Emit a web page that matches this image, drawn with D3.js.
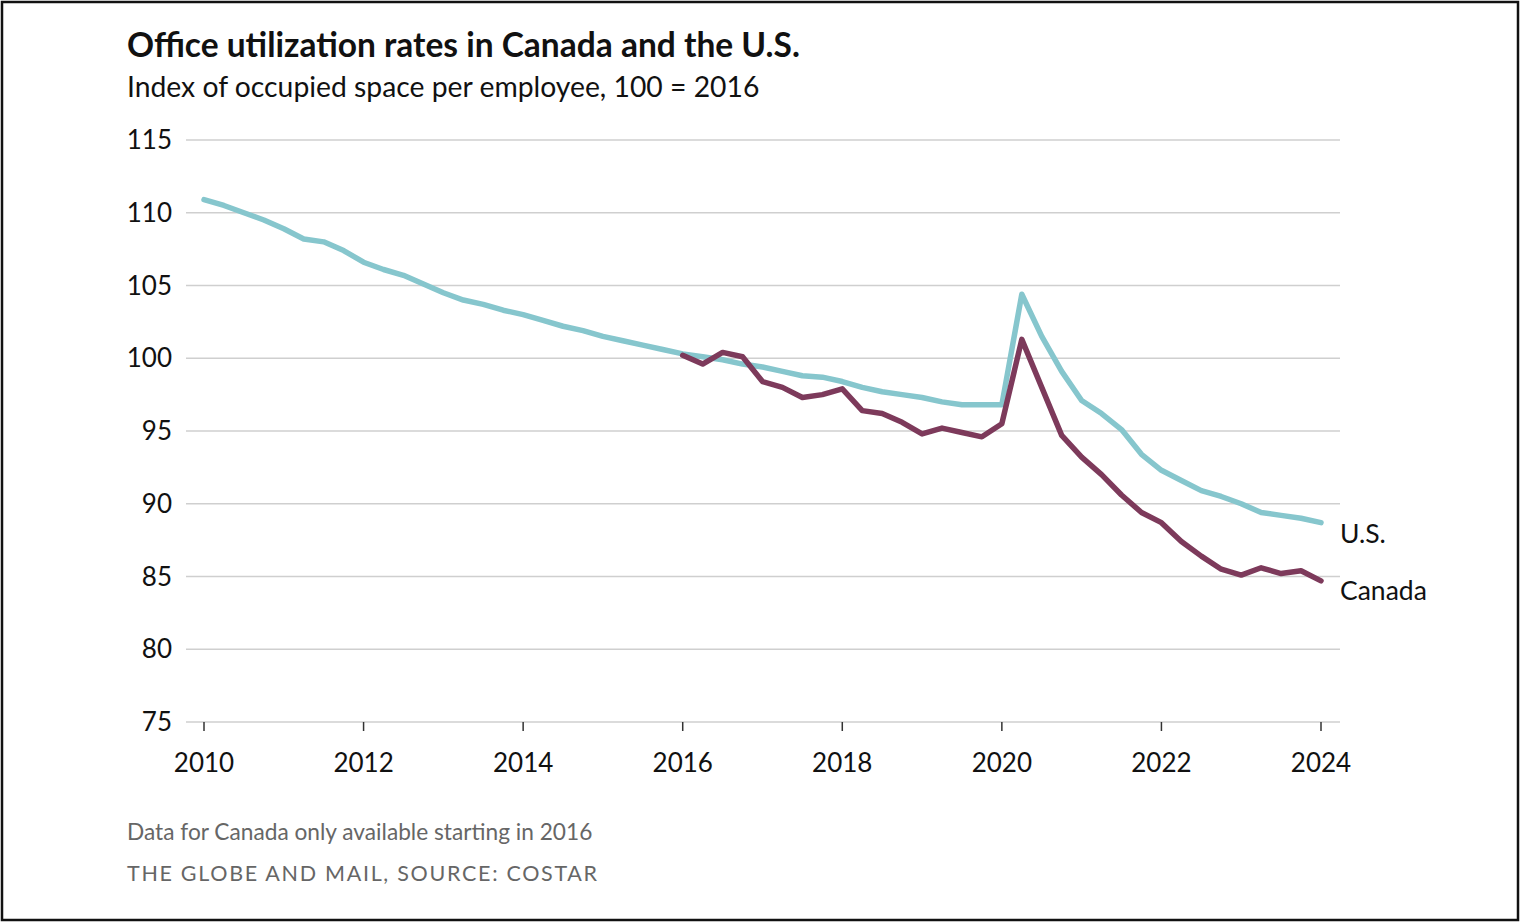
<html>
<head>
<script src="https://cdn.jsdelivr.net/npm/d3@7"></script>
</head>
<body style="margin:0;background:#fff">
<svg width="1520" height="923" id="chart"></svg>
<script>
// quarterly index values, 100 = 2016
var usStart = 2010;
var usValues = [110.9, 110.5, 110.0, 109.5, 108.9, 108.2, 108.0, 107.4, 106.6, 106.1, 105.7, 105.1,
  104.5, 104.0, 103.7, 103.3, 103.0, 102.6, 102.2, 101.9, 101.5, 101.2, 100.9, 100.6,
  100.3, 100.1, 99.9, 99.6, 99.4, 99.1, 98.8, 98.7, 98.4, 98.0, 97.7, 97.5,
  97.3, 97.0, 96.8, 96.8, 96.8, 104.4, 101.5, 99.1, 97.1, 96.2, 95.1, 93.4,
  92.3, 91.6, 90.9, 90.5, 90.0, 89.4, 89.2, 89.0, 88.7];
var caStart = 2016;
var caValues = [100.2, 99.6, 100.4, 100.1, 98.4, 98.0, 97.3, 97.5, 97.9, 96.4, 96.2, 95.6,
  94.8, 95.2, 94.9, 94.6, 95.5, 101.3, 98.0, 94.7, 93.2, 92.0, 90.6, 89.4,
  88.7, 87.4, 86.4, 85.5, 85.1, 85.6, 85.2, 85.4, 84.7];
var yTicks = [75, 80, 85, 90, 95, 100, 105, 110, 115];
var xTicks = [2010, 2012, 2014, 2016, 2018, 2020, 2022, 2024];

function toPoints(start, vals) {
  return vals.map(function(v, i) { return {t: start + i / 4, v: v}; });
}
var us = toPoints(usStart, usValues);
var ca = toPoints(caStart, caValues);

var svg = d3.select("#chart");
var font = "Lato, 'Open Sans', sans-serif";

svg.append("rect")
  .attr("x", 2).attr("y", 2).attr("width", 1516).attr("height", 918)
  .attr("fill", "none").attr("stroke", "#111").attr("stroke-width", 2.5);

var x = d3.scaleLinear().domain([2010, 2024]).range([204, 1321]);
var y = d3.scaleLinear().domain([75, 115]).range([722, 140]);

// gridlines
svg.append("g")
  .selectAll("line")
  .data(yTicks)
  .enter().append("line")
  .attr("x1", 186).attr("x2", 1340)
  .attr("y1", function(d) { return y(d); })
  .attr("y2", function(d) { return y(d); })
  .attr("stroke", "#cfcfcf").attr("stroke-width", 1.5);

// y labels
svg.append("g")
  .selectAll("text")
  .data(yTicks)
  .enter().append("text")
  .attr("x", 172)
  .attr("y", function(d) { return y(d) + 9; })
  .attr("text-anchor", "end")
  .style("font-family", font).style("font-size", "26px").style("fill", "#111")
  .text(function(d) { return d; });

// x axis ticks + labels
var xg = svg.append("g");
xg.selectAll("line")
  .data(xTicks)
  .enter().append("line")
  .attr("x1", function(d) { return x(d); })
  .attr("x2", function(d) { return x(d); })
  .attr("y1", 722).attr("y2", 731)
  .attr("stroke", "#333").attr("stroke-width", 1.5);
xg.selectAll("text")
  .data(xTicks)
  .enter().append("text")
  .attr("x", function(d) { return x(d); })
  .attr("y", 772)
  .attr("text-anchor", "middle")
  .style("font-family", font).style("font-size", "26px").style("fill", "#111")
  .text(function(d) { return d; });

var line = d3.line()
  .x(function(d) { return x(d.t); })
  .y(function(d) { return y(d.v); });

svg.append("path").datum(us)
  .attr("d", line)
  .attr("fill", "none").attr("stroke", "#86c6cd").attr("stroke-width", 5.5)
  .attr("stroke-linejoin", "round").attr("stroke-linecap", "round");

svg.append("path").datum(ca)
  .attr("d", line)
  .attr("fill", "none").attr("stroke", "#7d3a5b").attr("stroke-width", 5.5)
  .attr("stroke-linejoin", "round").attr("stroke-linecap", "round");

// series labels
svg.append("text").attr("x", 1340).attr("y", 543)
  .style("font-family", font).style("font-size", "26.5px").style("fill", "#111")
  .text("U.S.");
svg.append("text").attr("x", 1340).attr("y", 600)
  .style("font-family", font).style("font-size", "26.5px").style("fill", "#111")
  .text("Canada");

// title block
svg.append("text").attr("x", 127).attr("y", 57)
  .style("font-family", font).style("font-size", "33.5px").style("font-weight", "bold").style("fill", "#111")
  .text("Office utilization rates in Canada and the U.S.");
svg.append("text").attr("x", 127).attr("y", 97)
  .style("font-family", font).style("font-size", "28.3px").style("fill", "#111")
  .text("Index of occupied space per employee, 100 = 2016");

// footer
svg.append("text").attr("x", 127).attr("y", 840)
  .style("font-family", font).style("font-size", "22.7px").style("fill", "#666")
  .text("Data for Canada only available starting in 2016");
svg.append("text").attr("x", 127).attr("y", 881)
  .style("font-family", font).style("font-size", "21.5px").style("fill", "#666")
  .style("letter-spacing", "1.7px")
  .text("THE GLOBE AND MAIL, SOURCE: COSTAR");
</script>
</body>
</html>
